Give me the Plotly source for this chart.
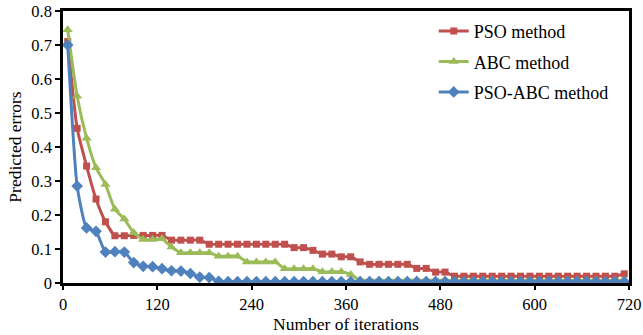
import plotly.graph_objects as go

iterations = [6, 18, 30, 42, 54, 66, 78, 90, 102, 114,
              126, 138, 150, 162, 174, 186, 198, 210, 222, 234,
              246, 258, 270, 282, 294, 306, 318, 330, 342, 354,
              366, 378, 390, 402, 414, 426, 438, 450, 462, 474,
              486, 498, 510, 522, 534, 546, 558, 570, 582, 594,
              606, 618, 630, 642, 654, 666, 678, 690, 702, 714]

pso = [0.71, 0.455, 0.344, 0.247, 0.18, 0.139, 0.139, 0.14, 0.14, 0.14,
       0.14, 0.126, 0.126, 0.126, 0.126, 0.114, 0.114, 0.114, 0.114, 0.114,
       0.114, 0.114, 0.114, 0.114, 0.104, 0.104, 0.096, 0.085, 0.085, 0.077,
       0.077, 0.062, 0.055, 0.055, 0.055, 0.055, 0.055, 0.043, 0.043, 0.032,
       0.032, 0.02, 0.02, 0.02, 0.02, 0.02, 0.02, 0.02, 0.02, 0.02,
       0.02, 0.02, 0.02, 0.02, 0.02, 0.02, 0.02, 0.02, 0.02, 0.027]

abc = [0.745, 0.549, 0.426, 0.339, 0.29, 0.217, 0.188, 0.148, 0.128, 0.128,
       0.13, 0.106, 0.089, 0.089, 0.089, 0.089, 0.079, 0.079, 0.079, 0.062,
       0.062, 0.062, 0.062, 0.042, 0.042, 0.042, 0.042, 0.033, 0.033, 0.033,
       0.025, 0.008, 0.008, 0.008, 0.008, 0.008, 0.008, 0.008, 0.008, 0.008,
       0.008, 0.008, 0.008, 0.008, 0.008, 0.008, 0.008, 0.008, 0.008, 0.008,
       0.008, 0.008, 0.008, 0.008, 0.008, 0.008, 0.008, 0.008, 0.008, 0.008]

pso_abc = [0.70, 0.285, 0.162, 0.152, 0.091, 0.092, 0.091, 0.06, 0.049, 0.048,
           0.042, 0.036, 0.035, 0.028, 0.017, 0.016, 0.005, 0.004, 0.004, 0.004,
           0.004, 0.004, 0.004, 0.004, 0.004, 0.004, 0.004, 0.004, 0.004, 0.004,
           0.004, 0.004, 0.004, 0.004, 0.004, 0.004, 0.004, 0.004, 0.004, 0.004,
           0.004, 0.004, 0.004, 0.004, 0.004, 0.004, 0.004, 0.004, 0.004, 0.004,
           0.004, 0.004, 0.004, 0.004, 0.004, 0.004, 0.004, 0.004, 0.004, 0.004]

series_names = ["PSO method", "ABC method", "PSO-ABC method"]
x_ticks = [0, 120, 240, 360, 480, 600, 720]
y_ticks = [0, 0.1, 0.2, 0.3, 0.4, 0.5, 0.6, 0.7, 0.8]
y_tick_labels = ["0", "0.1", "0.2", "0.3", "0.4", "0.5", "0.6", "0.7", "0.8"]

FONT = "Liberation Serif, Times New Roman, serif"

styles = [
    dict(color="#C0504D", symbol="square", size=7),
    dict(color="#9BBB59", symbol="triangle-up", size=9),
    dict(color="#4F81BD", symbol="diamond", size=9),
]

fig = go.Figure()
for name, ys, st, grp in zip(series_names, [pso, abc, pso_abc], styles, ["a", "b", "c"]):
    fig.add_trace(go.Scatter(
        x=iterations, y=ys, name=name, mode="lines+markers",
        legendgroup=grp,
        line=dict(color=st["color"], width=3, shape="spline", smoothing=0.5),
        marker=dict(color=st["color"], symbol=st["symbol"], size=st["size"]),
    ))

fig.update_layout(
    width=643, height=335,
    margin=dict(l=63, r=14, t=11, b=52, autoexpand=False),
    paper_bgcolor="white", plot_bgcolor="white",
    font=dict(family=FONT, color="black", size=16),
    showlegend=True,
    legend=dict(
        x=0.655, y=0.993, xanchor="left", yanchor="top",
        font=dict(family=FONT, size=18, color="black"),
        bgcolor="rgba(0,0,0,0)", tracegroupgap=4,
        traceorder="grouped",
    ),
    xaxis=dict(
        range=[0, 720], tickvals=x_ticks, ticktext=[str(v) for v in x_ticks],
        showgrid=False, zeroline=False, showline=True, linecolor="black",
        linewidth=2.5, mirror=True, ticks="outside", ticklen=4, tickwidth=2,
        tickcolor="black", tickfont=dict(family=FONT, size=16.5),
        automargin=False,
        title=dict(text="Number of iterations", font=dict(family=FONT, size=17.5),
                   standoff=0),
    ),
    yaxis=dict(
        range=[0, 0.8], tickvals=y_ticks, ticktext=y_tick_labels,
        showgrid=False, zeroline=False, showline=True, linecolor="black",
        linewidth=2.5, mirror=True, ticks="outside", ticklen=5, tickwidth=2,
        tickcolor="black", tickfont=dict(family=FONT, size=16.5),
        automargin=False,
        title=dict(text="Predicted errors", font=dict(family=FONT, size=17.5),
                   standoff=6),
    ),
)

# Remove the browser's default 8px body margin so the figure fills the window.
fig.write_html(
    "out.html",
    config={"displayModeBar": False},
    post_script="document.body.style.margin='0';document.body.style.overflow='hidden';",
)
